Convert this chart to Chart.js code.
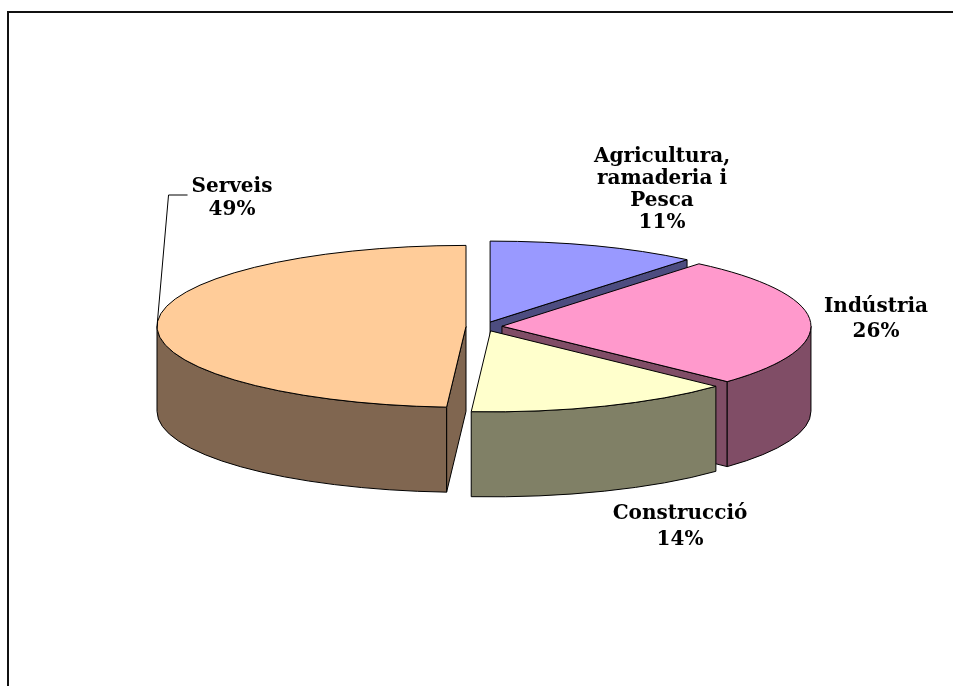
<!DOCTYPE html>
<html>
<head>
<meta charset="utf-8">
<script src="https://cdn.jsdelivr.net/npm/chart.js"></script>
<style>
  html, body { margin: 0; padding: 0; background: #fff; }
  #wrap { position: relative; width: 953px; height: 686px; overflow: hidden; }
  #frame { position: absolute; left: 7px; top: 11px; right: -4px; bottom: -4px;
           border-top: 2px solid #111; border-left: 2px solid #111; }
</style>
</head>
<body>
<div id="wrap">
  <div id="frame"></div>
  <canvas id="sectors"></canvas>
</div>
<script>
// sectors, clockwise from 12 o'clock
const sectors = [['Agricultura,', 'ramaderia i', 'Pesca'], ['Indústria'], ['Construcció'], ['Serveis']]
const shares = [11, 26, 14, 49]
const topColors = ['#9999FF', '#FF99CC', '#FFFFCC', '#FFCC99']
const sideColors = ['#4D4D80', '#804D66', '#808066', '#806650']

// label block: centre x, first baseline, line height
const labelAt = [[662, 162, 22], [876, 312, 25], [680, 519, 26], [232, 192, 23]]

const TILT = 0.262    // vertical squash of the disc
const DEPTH = 85      // thickness of the disc
const EXPLODE = 18    // how far each slice is pulled out

function rim(s, a, dy) {
    return [s.x + s.rx * Math.cos(a), s.y + s.ry * Math.sin(a) + (dy || 0)]
}

function strokeFill(ctx, fill) {
    ctx.fillStyle = fill
    ctx.fill()
    ctx.lineWidth = 1
    ctx.strokeStyle = '#000'
    ctx.stroke()
}

const pie3d = {
    id: 'pie3d',
    beforeDatasetsDraw(chart) {
        const ctx = chart.ctx
        const arcs = chart.getDatasetMeta(0).data
        const slices = arcs.map((arc, i) => {
            const mid = (arc.startAngle + arc.endAngle) / 2
            return {
                i: i,
                a1: arc.startAngle,
                a2: arc.endAngle,
                mid: mid,
                rx: arc.outerRadius,
                ry: arc.outerRadius * TILT,
                x: arc.x + Math.cos(mid) * EXPLODE,
                y: arc.y + Math.sin(mid) * EXPLODE * TILT
            }
        })

        // back slices first
        const order = slices.slice().sort((p, q) => Math.sin(p.mid) - Math.sin(q.mid))
        ctx.save()
        ctx.lineJoin = 'round'
        order.forEach(s => {
            const side = sideColors[s.i]
            // cut faces that turn towards the viewer
            const cuts = []
            if (Math.cos(s.a1) < -1e-6) cuts.push(s.a1)
            if (Math.cos(s.a2) > 1e-6) cuts.push(s.a2)
            cuts.forEach(a => {
                const p = rim(s, a)
                ctx.beginPath()
                ctx.moveTo(s.x, s.y)
                ctx.lineTo(p[0], p[1])
                ctx.lineTo(p[0], p[1] + DEPTH)
                ctx.lineTo(s.x, s.y + DEPTH)
                ctx.closePath()
                strokeFill(ctx, side)
            })
            // outer wall on the front half
            const from = Math.max(s.a1, 0)
            const to = Math.min(s.a2, Math.PI)
            if (to > from) {
                const e = rim(s, to, DEPTH)
                ctx.beginPath()
                ctx.ellipse(s.x, s.y, s.rx, s.ry, 0, from, to)
                ctx.lineTo(e[0], e[1])
                ctx.ellipse(s.x, s.y + DEPTH, s.rx, s.ry, 0, to, from, true)
                ctx.closePath()
                strokeFill(ctx, side)
            }
        })

        // top faces
        order.forEach(s => {
            ctx.beginPath()
            ctx.moveTo(s.x, s.y)
            ctx.ellipse(s.x, s.y, s.rx, s.ry, 0, s.a1, s.a2)
            ctx.closePath()
            strokeFill(ctx, topColors[s.i])
        })

        // labels
        ctx.font = 'bold 20px "DejaVu Serif", serif'
        ctx.fillStyle = '#000'
        ctx.textAlign = 'center'
        ctx.textBaseline = 'alphabetic'
        slices.forEach(s => {
            const lines = sectors[s.i].concat([shares[s.i] + '%'])
            const [lx, ly, lh] = labelAt[s.i]
            lines.forEach((t, k) => ctx.fillText(t, lx, ly + k * lh))
        })

        // leader line for Serveis
        const sv = slices[3]
        const w = ctx.measureText(sectors[3][0]).width
        const start = labelAt[3][0] - w / 2 - 4
        const end = rim(sv, Math.PI)
        ctx.beginPath()
        ctx.moveTo(start, labelAt[3][1] + 3)
        ctx.lineTo(start - 19, labelAt[3][1] + 3)
        ctx.lineTo(end[0], end[1])
        ctx.lineWidth = 1
        ctx.strokeStyle = '#000'
        ctx.stroke()
        ctx.restore()
        return false
    }
}

const ctx = document.getElementById('sectors').getContext('2d')
const chart = new Chart(ctx, {
    type: 'pie',
    data: {
        labels: sectors.map(l => l.join(' ')),
        datasets: [{
            data: shares,
            backgroundColor: topColors,
            borderColor: '#000',
            borderWidth: 1
        }]
    },
    options: {
        responsive: true,
        maintainAspectRatio: false,
        animation: false,
        events: [],
        layout: { padding: { left: 174, right: 159, top: 17, bottom: 50 } },
        plugins: {
            legend: { display: false },
            tooltip: { enabled: false }
        }
    },
    plugins: [pie3d]
})
</script>
</body>
</html>
